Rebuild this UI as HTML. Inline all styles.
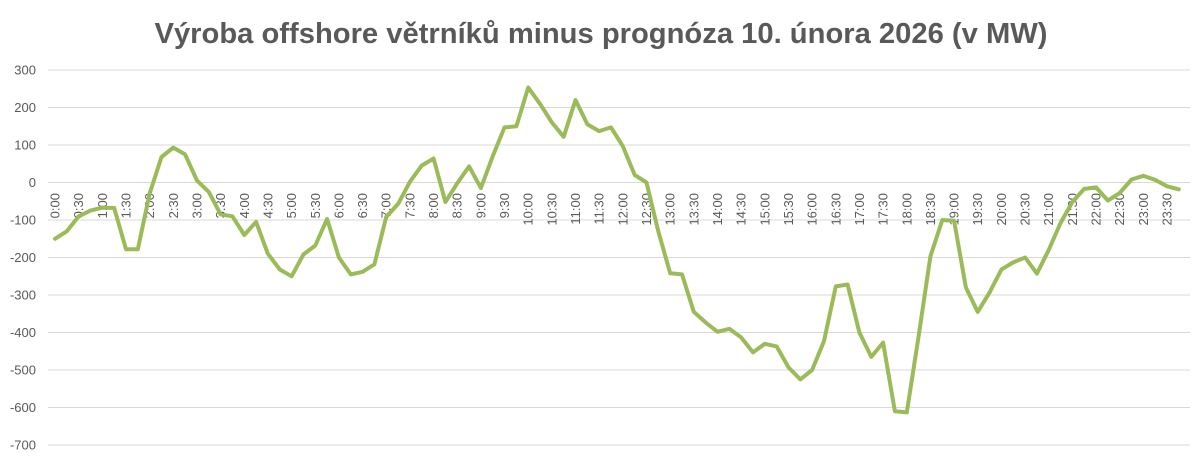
<!DOCTYPE html>
<html><head><meta charset="utf-8"><style>body{margin:0;background:#fff}svg{display:block}</style></head>
<body>
<svg id="s" width="1200" height="462" xmlns="http://www.w3.org/2000/svg" font-family="Liberation Sans, sans-serif">
<rect width="1200" height="462" fill="#fff"/>
<text x="601" y="43" text-anchor="middle" font-size="29" font-weight="bold" fill="#595959" textLength="893" lengthAdjust="spacingAndGlyphs">Výroba offshore větrníků minus prognóza 10. února 2026 (v MW)</text>
<g id="grid" stroke="#d9d9d9" stroke-width="1"></g>
<g id="yl" font-size="13" fill="#595959" text-anchor="end"></g>
<g id="xl" font-size="13" fill="#595959" text-anchor="end"></g>
<polyline id="ln" fill="none" stroke="#9bbb59" stroke-width="4" stroke-linejoin="round" stroke-linecap="round"/>
</svg>
<script>
var ns="http://www.w3.org/2000/svg";
function Y(v){return 182.5-v*0.375;}
function X(i){return 55+11.83*i;}
var g=document.getElementById('grid'),yl=document.getElementById('yl'),xl=document.getElementById('xl');
for(var v=300;v>=-700;v-=100){
 var l=document.createElementNS(ns,'line');l.setAttribute('x1',48);l.setAttribute('x2',1190);l.setAttribute('y1',Y(v));l.setAttribute('y2',Y(v));g.appendChild(l);
 var t=document.createElementNS(ns,'text');t.setAttribute('x',36);t.setAttribute('y',Y(v)+4.5);t.textContent=v;yl.appendChild(t);
}
for(var k=0;k<48;k++){
 var t=document.createElementNS(ns,'text');var x=X(2*k)+4.5;
 t.setAttribute('transform','translate('+x+',193) rotate(-90)');
 t.textContent=Math.floor(k/2)+':'+(k%2?'30':'00');xl.appendChild(t);
}
var d=[-150,-130,-90,-75,-67,-68,-178,-178,-30,68,93,75,5,-25,-85,-90,-140,-105,-190,-232,-250,-192,-168,-97,-200,-245,-238,-218,-92,-57,2,45,64,-52,-2,43,-15,70,147,150,253,210,160,122,220,155,137,147,97,20,0,-130,-242,-245,-345,-373,-398,-390,-413,-453,-430,-437,-493,-525,-500,-423,-277,-272,-400,-465,-427,-610,-613,-410,-197,-100,-102,-280,-345,-293,-232,-213,-200,-243,-180,-108,-52,-17,-13,-48,-28,8,18,7,-10,-18];
document.getElementById('ln').setAttribute('points',d.map(function(v,i){return X(i).toFixed(1)+','+Y(v).toFixed(1)}).join(' '));
</script>
</body></html>
